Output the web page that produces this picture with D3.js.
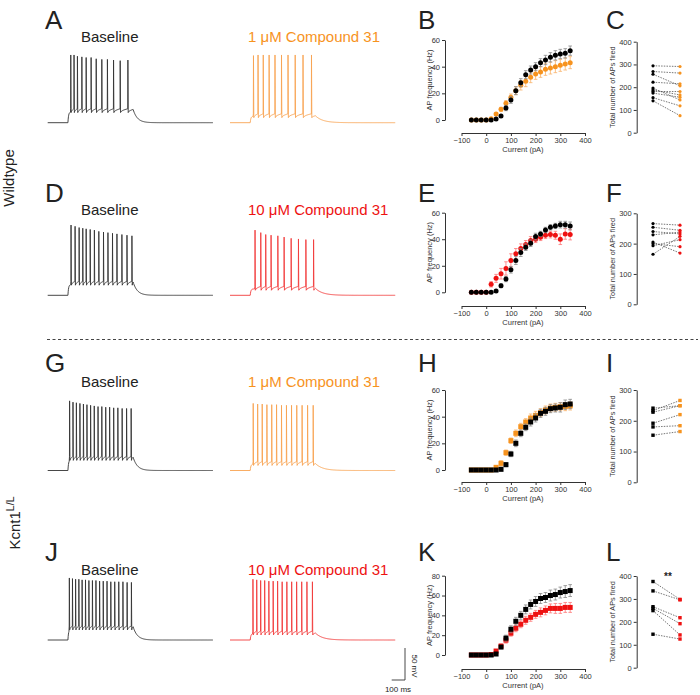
<!DOCTYPE html>
<html><head><meta charset="utf-8">
<script src="https://cdn.jsdelivr.net/npm/d3@7"></script>
<style>body{margin:0;background:#fff}svg{display:block}text{font-family:Arial,"Liberation Sans",Helvetica,sans-serif}</style>
</head><body><svg id="c" width="700" height="695"></svg>
<script>
// ---------- data ----------
const currents = [-60,-40,-20,0,20,40,60,80,100,120,140,160,180,200,220,240,260,280,300,320,340];
const xTicks = [-100,0,100,200,300,400];

const bBase = [0,0,0,0,0,0.7,3,9,15,22,28,34,37.5,40,43,45,47,48.5,49.5,50,52];
const bBaseErr = [0,0,0,0,0,0.5,1,2,2.5,3,3,3,3,3,3,3.5,3.5,3.5,3.5,3.5,3.5];
const bDrug = [0,0,0,0,1,4.5,8,12.5,17,22,26,29,32,34.5,36,38,39,40,41,42,43];
const bDrugErr = [0,0,0,0,0.5,1,1.5,2,2.5,3,3.5,4,4,4,4,4.5,4.5,4.5,4.5,4.5,4.5];

const eBase = [0,0,0,0,0,1,5,10,17,24,30,34,37,42,44,47,49,50,51,51,50];
const eBaseErr = [0,0,0,0,0,0.5,1.5,2,2.5,3,3,2.5,2.5,2.5,2,2,2,2,2.5,2.5,3];
const eDrug = [0,0,0,0,6,10.5,14,18,24,29,33,36,39,40,41.5,43,43.5,43,40,44,43.5];
const eDrugErr = [0,0,0,0,2,3,4,5,5,4,3.5,3,3,2.5,2.5,2.5,2.5,3,4,4,4];

const hBase = [0,0,0,0,0,0,0.5,4,12,20,27.5,32,36,39,42.5,44,46,46.5,47,49,49.5];
const hBaseErr = [0,0,0,0,0,0,0.5,1.5,2,2.5,2.5,2.5,3,3,3,3,3,3,3.5,3.5,3.5];
const hDrug = [0,0,0,0,0,2,5,13,22,27.5,32.5,36,39,41,43,45,46.5,47,47.5,47.5,48];
const hDrugErr = [0,0,0,0,0,1,2,2,2,2.5,2.5,2.5,3,3,3,3,3,3,3,3,3];

const kBase = [0,0,0,0,0,1,8,17,26,34,40,46,51,54,57,58,60,61,63,64,65];
const kBaseErr = [0,0,0,0,0,0.5,1.5,3,3.5,4,4,4.5,4.5,5,5,5,5.5,5.5,5.5,6,6];
const kDrug = [0,0,0,0,0.5,4,9,15,22,27,31,35,38,41,43,45,47,47,47,48,48];
const kDrugErr = [0,0,0,0,0.5,1,2,3,3,3.5,3.5,4,4,4,4.5,4.5,4.5,5,5,5,5];

const cBase = [294,269,257,222,196,188,181,174,154,140];
const cDrug = [291,262,206,215,144,166,181,156,118,75];
const fBase = [266,254,240,229,205,200,193,165];
const fDrug = [261,244,232,238,169,190,213,224];
const iBase = [241,233,228,192,180,153];
const iDrug = [249,266,249,220,184,165];
const lBase = [376,335,266,259,249,146];
const lDrug = [298,296,218,192,143,125];

// spike times (ms from trace start) and peak potentials (mV)
const aBaseSpikes = [177,202,228,262,295,333,372,415,458,505,556,615];
const aBasePeaks  = [37,37,35,34,33,33,31,30,30,29,28,29];
const aDrugSpikes = [180,215,255,300,345,395,445,500,560,625];
const aDrugPeaks  = [36,37,37,37,37,37,37,37,37,37];
const dBaseSpikes = [179,210,241,269,295,326,358,392,428,462,497,531,569,608,646];
const dBasePeaks  = [41,39,37,36,35,34,33,31,30,29,28,27,26,25,24];
const dDrugSpikes = [192,236,274,315,367,415,469,525,582,641];
const dDrugPeaks  = [33,29,26,25,24,22,20,19,18,18];
const gBaseSpikes = [168,194,220,247,274,301,329,357,386,415,445,475,506,538,571,605,640];
const gBasePeaks  = [40,38,37,36,35,34,33,32,31,31,30,30,29,29,28,28,28];
const gDrugSpikes = [178,212,247,283,320,357,395,433,472,512,553,595,638];
const gDrugPeaks  = [36,35,35,34,34,34,33,33,33,33,33,33,33];
const jBaseSpikes = [166,190,214,239,264,290,316,343,370,398,426,455,484,514,545,577,609,642];
const jBasePeaks  = [28,27,26,26,25,25,24,24,24,23,23,23,22,22,22,22,21,21];
const jDrugSpikes = [176,205,235,266,298,331,365,400,436,473,511,550,590,632];
const jDrugPeaks  = [26,25,24,24,23,23,23,22,22,22,22,22,22,22];

const STIM_ON = 155, STIM_OFF = 655, T_END = 1270;

// ---------- styles ----------
const INK = '#222';
const ORANGE = '#f7931e', RED = '#ee1111';
const ORANGE_T = '#f8a452', RED_T = '#f23b3b';
const svg = d3.select('#c');

// ---------- panel letters & labels ----------
const letters = [
  ['A',45,29],['B',418,29],['C',606,29],
  ['D',45,202],['E',418,202],['F',606,202],
  ['G',45,372],['H',418,372],['I',606,372],
  ['J',45,561],['K',418,561],['L',606,561]];
svg.selectAll('text.let').data(letters).join('text').attr('class','let')
  .attr('x',d=>d[1]).attr('y',d=>d[2]).text(d=>d[0])
  .attr('font-size',26).attr('fill',INK);

function label(txt,x,y,col){svg.append('text').attr('x',x).attr('y',y).attr('font-size',15).attr('fill',col).text(txt);}
label('Baseline',81,42,INK); label('1 \u03bcM Compound 31',248,42,ORANGE);
label('Baseline',81,215,INK); label('10 \u03bcM Compound 31',248,215,RED);
label('Baseline',81,387,INK); label('1 \u03bcM Compound 31',248,387,ORANGE);
label('Baseline',81,575,INK); label('10 \u03bcM Compound 31',248,575,RED);

svg.append('text').attr('transform','translate(14,178) rotate(-90)').attr('text-anchor','middle')
  .attr('font-size',15).attr('fill',INK).text('Wildtype');
const kc = svg.append('text').attr('transform','translate(20,523) rotate(-90)').attr('text-anchor','middle')
  .attr('font-size',15).attr('fill',INK);
kc.append('tspan').text('Kcnt1');
kc.append('tspan').attr('dy',-6).attr('font-size',10.5).text('L/L');

svg.append('line').attr('x1',47).attr('x2',698).attr('y1',339.5).attr('y2',339.5)
  .attr('stroke','#444').attr('stroke-width',1).attr('stroke-dasharray','3,2.5');

// ---------- traces ----------
function tracePoints(sp, pk, lv){
  const pts=[[0,lv.rest],[STIM_ON,lv.rest]];
  for(let t=STIM_ON;t<sp[0]-1;t+=2) pts.push([t, lv.rest+(lv.plat-lv.rest)*(1-Math.exp(-(t-STIM_ON)/5))]);
  pts.push([sp[0]-1, lv.thr]);
  sp.forEach((ts,i)=>{
    pts.push([ts,pk[i]]); pts.push([ts+2.5,lv.trough]);
    const last = i===sp.length-1;
    const next = last? STIM_OFF : sp[i+1]-1;
    const end = last? lv.plat+lv.bump : lv.thr;
    for(let k=1;k<=8;k++){const f=k/8; pts.push([ts+2.5+(next-ts-2.5)*f, lv.trough+(end-lv.trough)*Math.sqrt(f)]);}
  });
  for(let t=STIM_OFF;t<=T_END;t+=4) pts.push([t, lv.rest+(lv.plat+lv.bump-lv.rest)*Math.exp(-(t-STIM_OFF)/lv.tau)]);
  return pts;
}
const PXMV = 0.633;
function drawTrace(x0, yRest, sp, pk, color, lv){
  const x = d3.scaleLinear().domain([0,T_END]).range([x0, x0+165.6]);
  const y = d3.scaleLinear().domain([-70,40]).range([yRest, yRest-110*PXMV]);
  svg.append('path').attr('d', d3.line().x(d=>x(d[0])).y(d=>y(d[1]))(tracePoints(sp,pk,lv)))
    .attr('fill','none').attr('stroke',color).attr('stroke-width',0.9).attr('stroke-linejoin','round');
}
const LB = {rest:-70, plat:-53, trough:-54, thr:-48, tau:32, bump:4};
const LD = {rest:-70, plat:-60, trough:-62, thr:-56, tau:55, bump:1};
drawTrace(47.7,122.7,aBaseSpikes,aBasePeaks,'#333',LB);
drawTrace(230,122.7,aDrugSpikes,aDrugPeaks,ORANGE_T,LD);
drawTrace(47.7,295.3,dBaseSpikes,dBasePeaks,'#333',LB);
drawTrace(230,295.3,dDrugSpikes,dDrugPeaks,RED_T,LD);
drawTrace(47.7,470.5,gBaseSpikes,gBasePeaks,'#333',LB);
drawTrace(230,470.5,gDrugSpikes,gDrugPeaks,ORANGE_T,LD);
drawTrace(47.7,640,jBaseSpikes,jBasePeaks,'#333',LB);
drawTrace(230,640,jDrugSpikes,jDrugPeaks,RED_T,LD);

// scale bar
svg.append('path').attr('d','M405,648V680H391.7').attr('fill','none').attr('stroke','#333').attr('stroke-width',0.9);
svg.append('text').attr('transform','translate(412,666) rotate(90)').attr('text-anchor','middle')
  .attr('font-size',8).attr('fill',INK).text('50 mV');
svg.append('text').attr('x',398).attr('y',692).attr('text-anchor','middle').attr('font-size',8).attr('fill',INK).text('100 ms');

// ---------- f-I plots ----------
function styleAxis(g){
  g.selectAll('path.domain').attr('stroke','#333').attr('stroke-width',1);
  g.selectAll('.tick line').attr('stroke','#333').attr('stroke-width',1);
  g.selectAll('.tick text').attr('font-size',7.5).attr('fill','#333')
    .attr('font-family','Arial,"Liberation Sans",Helvetica,sans-serif');
}
function fiPlot(o){
  const x = d3.scaleLinear().domain([-100,400]).range([461.5,585]);
  const y = d3.scaleLinear().domain([0,o.ymax]).range([o.y0,o.ytop]);
  const gx = svg.append('g').attr('transform',`translate(0,${o.xAxisY})`)
    .call(d3.axisBottom(x).tickValues(xTicks).tickSize(3).tickSizeOuter(0).tickPadding(2));
  styleAxis(gx);
  const gy = svg.append('g').attr('transform','translate(445,0)')
    .call(d3.axisLeft(y).tickValues(o.yTicks).tickSize(3).tickSizeOuter(0).tickPadding(2));
  styleAxis(gy);
  svg.append('text').attr('x',523).attr('y',o.xAxisY+19).attr('text-anchor','middle')
    .attr('font-size',7.5).attr('fill','#333').text('Current (pA)');
  svg.append('text').attr('transform',`translate(432,${(o.y0+o.ytop)/2}) rotate(-90)`).attr('text-anchor','middle')
    .attr('font-size',7.5).attr('fill','#333').text('AP frequency (Hz)');
  const series = [
    {v:o.drug, e:o.drugErr, c:o.color, ec:o.errColor},
    {v:o.base, e:o.baseErr, c:'#000', ec:'#888'}];
  series.forEach(s=>{
    const g = svg.append('g');
    currents.forEach((cx,i)=>{
      const px=x(cx), lo=y(s.v[i]-s.e[i]), hi=y(s.v[i]+s.e[i]);
      if(s.e[i]>0){
        g.append('path').attr('d',`M${px},${lo}V${hi}M${px-1.8},${lo}H${px+1.8}M${px-1.8},${hi}H${px+1.8}`)
          .attr('stroke',s.ec).attr('stroke-width',0.8).attr('fill','none');
      }
    });
    currents.forEach((cx,i)=>{
      const px=x(cx), py=y(s.v[i]);
      if(o.shape==='circle') g.append('circle').attr('cx',px).attr('cy',py).attr('r',2.5).attr('fill',s.c);
      else g.append('rect').attr('x',px-2.5).attr('y',py-2.5).attr('width',5).attr('height',5).attr('fill',s.c);
    });
  });
}
fiPlot({ymax:60,y0:120,ytop:40,xAxisY:133,yTicks:[0,20,40,60],base:bBase,baseErr:bBaseErr,drug:bDrug,drugErr:bDrugErr,color:ORANGE,errColor:'#f9b36a',shape:'circle'});
fiPlot({ymax:60,y0:292.3,ytop:212.7,xAxisY:306,yTicks:[0,20,40,60],base:eBase,baseErr:eBaseErr,drug:eDrug,drugErr:eDrugErr,color:RED,errColor:'#f77',shape:'circle'});
fiPlot({ymax:60,y0:470,ytop:390,xAxisY:482,yTicks:[0,20,40,60],base:hBase,baseErr:hBaseErr,drug:hDrug,drugErr:hDrugErr,color:ORANGE,errColor:'#f9b36a',shape:'square'});
fiPlot({ymax:80,y0:655,ytop:575.7,xAxisY:669,yTicks:[0,20,40,60,80],base:kBase,baseErr:kBaseErr,drug:kDrug,drugErr:kDrugErr,color:RED,errColor:'#f77',shape:'square'});

// ---------- paired plots ----------
function pairPlot(o){
  const y = d3.scaleLinear().domain([0,o.ymax]).range([o.y0,o.ytop]);
  const x = d3.scalePoint().domain(['base','drug']).range([653,680]);
  const gy = svg.append('g').attr('transform','translate(636.7,0)')
    .call(d3.axisLeft(y).ticks(o.ymax/100).tickSize(3).tickSizeOuter(0).tickPadding(2));
  styleAxis(gy);
  svg.append('text').attr('transform',`translate(615,${(o.y0+o.ytop)/2}) rotate(-90)`).attr('text-anchor','middle')
    .attr('font-size',7.3).attr('fill','#333').text('Total number of APs fired');
  const g = svg.append('g');
  o.base.forEach((b,i)=>{
    g.append('line').attr('x1',x('base')).attr('x2',x('drug')).attr('y1',y(b)).attr('y2',y(o.drug[i]))
      .attr('stroke','#555').attr('stroke-width',0.8).attr('stroke-dasharray','1.5,1.2');
  });
  const mk = (cx,cy,c)=> o.shape==='circle'
    ? g.append('circle').attr('cx',cx).attr('cy',cy).attr('r',1.6).attr('fill',c)
    : g.append('rect').attr('x',cx-1.7).attr('y',cy-1.7).attr('width',3.4).attr('height',3.4).attr('fill',c);
  o.base.forEach(b=>mk(x('base'),y(b),'#000'));
  o.drug.forEach(d=>mk(x('drug'),y(d),o.color));
}
pairPlot({ymax:400,y0:132.7,ytop:41.7,base:cBase,drug:cDrug,color:ORANGE,shape:'circle'});
pairPlot({ymax:300,y0:304.3,ytop:213.3,base:fBase,drug:fDrug,color:RED,shape:'circle'});
pairPlot({ymax:300,y0:482.3,ytop:390,base:iBase,drug:iDrug,color:ORANGE,shape:'square'});
pairPlot({ymax:400,y0:667.7,ytop:576,base:lBase,drug:lDrug,color:RED,shape:'square'});
svg.append('text').attr('x',668).attr('y',580).attr('text-anchor','middle').attr('font-size',10)
  .attr('font-weight','bold').attr('fill',INK).text('**');
</script></body></html>
